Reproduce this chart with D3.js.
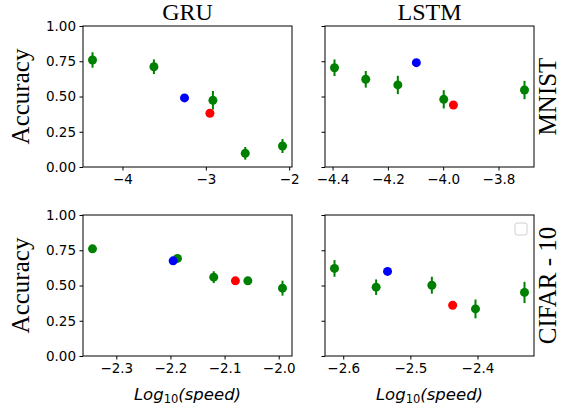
<!DOCTYPE html>
<html>
<head>
<meta charset="utf-8">
<script src="https://cdn.jsdelivr.net/npm/d3@7"></script>
<style>
  body { margin: 0; background: #fff; }
  .axis text { font-family: "DejaVu Sans", sans-serif; font-size: 13.5px; fill: #000; }
  .axis path, .axis line { stroke: #000; }
  .serif { font-family: "Liberation Serif", "Times New Roman", serif; font-size: 25px; }
</style>
</head>
<body>
<script>
// green points have error bars, blue and red are single runs
var gruMnistSpeed = [-4.36, -3.623, -2.915, -2.527, -2.08];
var gruMnistAcc   = [0.759, 0.711, 0.473, 0.097, 0.149];
var gruMnistErr   = [0.055, 0.052, 0.066, 0.045, 0.05];
var gruMnistBlue  = [-3.256, 0.49];
var gruMnistRed   = [-2.951, 0.381];

var lstmMnistSpeed = [-4.393, -4.28, -4.164, -3.998, -3.706];
var lstmMnistAcc   = [0.704, 0.622, 0.582, 0.48, 0.546];
var lstmMnistErr   = [0.059, 0.059, 0.065, 0.065, 0.065];
var lstmMnistBlue  = [-4.097, 0.74];
var lstmMnistRed   = [-3.963, 0.44];

var gruCifarSpeed = [-2.344, -2.187, -2.12, -2.057, -1.993];
var gruCifarAcc   = [0.76, 0.692, 0.559, 0.533, 0.481];
var gruCifarErr   = [0.01, 0.01, 0.042, 0.02, 0.053];
var gruCifarBlue  = [-2.195, 0.675];
var gruCifarRed   = [-2.08, 0.533];

var lstmCifarSpeed = [-2.613, -2.551, -2.468, -2.403, -2.33];
var lstmCifarAcc   = [0.621, 0.488, 0.502, 0.334, 0.451];
var lstmCifarErr   = [0.059, 0.055, 0.06, 0.067, 0.075];
var lstmCifarBlue  = [-2.534, 0.6];
var lstmCifarRed   = [-2.437, 0.36];

var yTicks = [0, 0.25, 0.5, 0.75, 1.0];
var gruMnistTicks = [-4, -3, -2];
var lstmMnistTicks = [-4.4, -4.2, -4.0, -3.8];
var gruCifarTicks = [-2.3, -2.2, -2.1, -2.0];
var lstmCifarTicks = [-2.6, -2.5, -2.4];

var modelNames = ["GRU", "LSTM"];
var datasetNames = ["MNIST", "CIFAR - 10"];

var w = 561, h = 410;
var colX = [83, 325], rowY = [26, 215];
var pw = 209, ph = 141;

var svg = d3.select("body").append("svg")
    .attr("width", w)
    .attr("height", h);

function panel(col, row, speed, acc, err, blue, red, ticks, fmt, showYLabels) {
  var x0 = colX[col], y0 = rowY[row];
  var all = speed.concat([blue[0], red[0]]);
  var ext = d3.extent(all);
  var pad = (ext[1] - ext[0]) * 0.05;
  var x = d3.scaleLinear().domain([ext[0] - pad, ext[1] + pad]).range([x0, x0 + pw]);
  var y = d3.scaleLinear().domain([0, 1]).range([y0 + ph, y0]);

  var g = svg.append("g");

  var xAxis = d3.axisBottom(x).tickValues(ticks).tickFormat(d3.format(fmt))
      .tickSizeInner(3.5).tickSizeOuter(0).tickPadding(3.5);
  g.append("g").attr("class", "axis")
    .attr("transform", "translate(0," + (y0 + ph) + ")")
    .call(xAxis)
    .select(".domain").remove();

  var yAxis = d3.axisLeft(y).tickValues(yTicks)
      .tickFormat(showYLabels ? d3.format(".2f") : "")
      .tickSizeInner(3.5).tickSizeOuter(0).tickPadding(3.5);
  g.append("g").attr("class", "axis")
    .attr("transform", "translate(" + x0 + ",0)")
    .call(yAxis)
    .select(".domain").remove();

  g.append("rect")
    .attr("x", x0).attr("y", y0)
    .attr("width", pw).attr("height", ph)
    .attr("fill", "none").attr("stroke", "#000").attr("stroke-width", 1);

  var pts = speed.map(function(s, i) { return {s: s, a: acc[i], e: err[i]}; });

  g.selectAll(".ebar").data(pts).enter().append("line")
    .attr("class", "ebar")
    .attr("x1", function(d) { return x(d.s); })
    .attr("x2", function(d) { return x(d.s); })
    .attr("y1", function(d) { return y(d.a - d.e); })
    .attr("y2", function(d) { return y(d.a + d.e); })
    .attr("stroke", "green").attr("stroke-width", 2);

  g.selectAll(".gdot").data(pts).enter().append("circle")
    .attr("class", "gdot")
    .attr("cx", function(d) { return x(d.s); })
    .attr("cy", function(d) { return y(d.a); })
    .attr("r", 4.5).attr("fill", "green");

  g.append("circle").attr("cx", x(blue[0])).attr("cy", y(blue[1]))
    .attr("r", 4.5).attr("fill", "blue");
  g.append("circle").attr("cx", x(red[0])).attr("cy", y(red[1]))
    .attr("r", 4.5).attr("fill", "red");
}

panel(0, 0, gruMnistSpeed, gruMnistAcc, gruMnistErr, gruMnistBlue, gruMnistRed, gruMnistTicks, ".0f", true);
panel(1, 0, lstmMnistSpeed, lstmMnistAcc, lstmMnistErr, lstmMnistBlue, lstmMnistRed, lstmMnistTicks, ".1f", false);
panel(0, 1, gruCifarSpeed, gruCifarAcc, gruCifarErr, gruCifarBlue, gruCifarRed, gruCifarTicks, ".1f", true);
panel(1, 1, lstmCifarSpeed, lstmCifarAcc, lstmCifarErr, lstmCifarBlue, lstmCifarRed, lstmCifarTicks, ".1f", false);

// column titles
svg.selectAll(".title").data(modelNames).enter().append("text")
  .attr("class", "serif")
  .attr("x", function(d, i) { return colX[i] + pw / 2; })
  .attr("y", 20)
  .attr("text-anchor", "middle")
  .style("font-size", "24px")
  .text(function(d) { return d; });

// y labels
rowY.forEach(function(ry) {
  svg.append("text")
    .attr("class", "serif")
    .attr("transform", "translate(29," + (ry + ph / 2) + ") rotate(-90)")
    .attr("text-anchor", "middle")
    .text("Accuracy");
});

// row labels on the right
svg.selectAll(".rowlab").data(datasetNames).enter().append("text")
  .attr("class", "serif")
  .attr("transform", function(d, i) { return "translate(556," + (rowY[i] + ph / 2) + ") rotate(-90)"; })
  .attr("text-anchor", "middle")
  .text(function(d) { return d; });

// x labels
colX.forEach(function(cx) {
  var t = svg.append("text")
    .attr("x", cx + pw / 2)
    .attr("y", 400)
    .attr("text-anchor", "middle")
    .style("font-family", "DejaVu Sans, sans-serif")
    .style("font-size", "16.5px")
    .style("font-style", "italic");
  t.append("tspan").text("Log");
  t.append("tspan").attr("dy", 3).style("font-size", "11.5px").style("font-style", "normal").text("10");
  t.append("tspan").attr("dy", -3).text("(speed)");
});

// empty legend box
svg.append("rect")
  .attr("x", 515).attr("y", 223)
  .attr("width", 12).attr("height", 12)
  .attr("rx", 2)
  .attr("fill", "#fff").attr("stroke", "#d0d0d0");
</script>
</body>
</html>
